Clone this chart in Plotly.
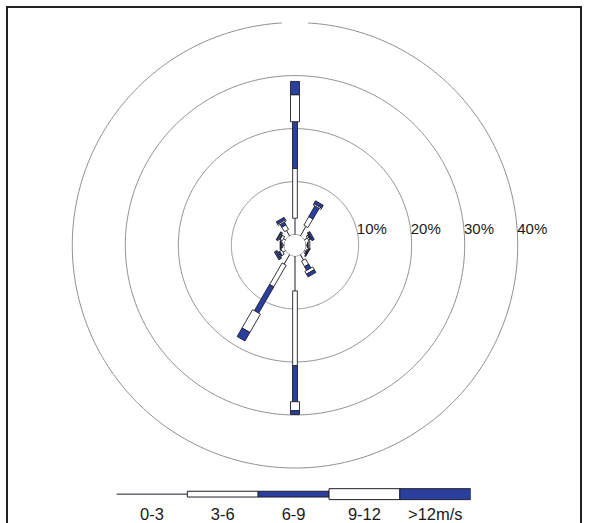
import numpy as np
import plotly.graph_objects as go

# Wind rose: frequency (%) of each speed class per direction (bearing, deg)
directions = [0, 30, 60, 90, 120, 150, 180, 210, 240, 270, 300, 330]
speed_classes = ["0-3", "3-6", "6-9", "9-12", ">12m/s"]
freq_0_3 = [3.1, 2.1, 0.7, 0.3, 0.3, 1.2, 6.6, 2.1, 0.6, 0.3, 0.5, 1.2]
freq_3_6 = [9.4, 1.9, 0.3, 0.1, 0.2, 1.2, 14.1, 4.7, 0.5, 0.2, 0.5, 1.0]
freq_6_9 = [8.8, 2.3, 0.2, 0.1, 0.1, 0.8, 6.8, 5.7, 0.3, 0.1, 0.2, 0.6]
freq_9_12 = [5.1, 0.3, 0.1, 0.3, 0.1, 0.6, 1.7, 4.0, 0.2, 0.1, 0.2, 0.3]
freq_12_plus = [2.5, 0.6, 0.4, 0.0, 0.1, 0.6, 0.7, 1.85, 0.4, 0.1, 0.2, 0.5]
ring_values = [10, 20, 30, 40]
ring_labels = ["10%", "20%", "30%", "40%"]

# ---- styling ----
W, H_PX = 589, 523
BLUE = "#2b3f9f"
EDGE = "#1e1e2a"
GRID = "#8f8f8f"
FONT = "Arial, Liberation Sans, sans-serif"
R_TOP = 40.5                   # a little headroom so the outer ring is not clipped
HOLE = 2.0                     # calm circle, in radial units
PX_PER_UNIT = 224.0 / 42.0
CX, CY = 295.0, 246.7
RAD = PX_PER_UNIT * (R_TOP + HOLE)
# half widths of the bar pieces (radial units); the first class is a plain line
half_w = [None, 0.44, 0.47, 0.85, 0.85]
fills = [None, "white", BLUE, "white", BLUE]

fig = go.Figure()

def bar_piece(theta, r0, r1, hw):
    rs, ts = [], []
    for u, s in [(r0 + HOLE, -1), (r1 + HOLE, -1), (r1 + HOLE, 1), (r0 + HOLE, 1), (r0 + HOLE, -1)]:
        rs.append(float(np.hypot(u, hw) - HOLE))
        ts.append(float(theta + s * np.degrees(np.arctan2(hw, u))))
    return rs, ts

# grid rings (the outermost one is open at the top)
for rv in ring_values:
    if rv == ring_values[-1]:
        th = np.linspace(3.4, 356.6, 400)
    else:
        th = np.linspace(0, 360, 400)
    fig.add_trace(go.Scatterpolar(r=[rv] * len(th), theta=th, mode="lines",
                                  line=dict(color=GRID, width=1), hoverinfo="skip"))

# bars
classes = [freq_0_3, freq_3_6, freq_6_9, freq_9_12, freq_12_plus]
for i, d in enumerate(directions):
    cum = np.cumsum([c[i] for c in classes])
    starts = np.concatenate([[0.0], cum[:-1]])
    # calm-to-3 m/s as a thin line
    fig.add_trace(go.Scatterpolar(r=[0, cum[0]], theta=[d, d], mode="lines",
                                  line=dict(color=EDGE, width=1), hoverinfo="skip"))
    for k in range(1, 5):
        if cum[k] - starts[k] <= 0:
            continue
        rs, ts = bar_piece(d, starts[k], cum[k], half_w[k])
        fig.add_trace(go.Scatterpolar(r=rs, theta=ts, mode="lines", fill="toself",
                                      fillcolor=fills[k],
                                      line=dict(color=EDGE, width=0.9),
                                      hoverinfo="skip"))

# calm circle
th = np.linspace(0, 360, 200)
fig.add_trace(go.Scatterpolar(r=[0] * len(th), theta=th, mode="lines",
                              line=dict(color="#555", width=1), hoverinfo="skip"))

# ring labels, just outside each ring a little above the east line
lab_theta = [90 - np.degrees(np.arcsin(2.8 / (rv + HOLE))) for rv in ring_values]
fig.add_trace(go.Scatterpolar(r=ring_values, theta=lab_theta, mode="text",
                              text=ring_labels, textposition="middle right",
                              textfont=dict(family=FONT, size=15, color="#1a1a1a"),
                              hoverinfo="skip"))

# speed legend strip
leg_hh = [None, 0.29, 0.29, 0.55, 0.55]
fig.add_trace(go.Scatter(x=[0, 1], y=[0, 0], mode="lines", line=dict(color=EDGE, width=1),
                         xaxis="x", yaxis="y", hoverinfo="skip"))
for k in range(1, 5):
    h = leg_hh[k]
    fig.add_trace(go.Scatter(x=[k, k + 1, k + 1, k, k], y=[-h, -h, h, h, -h], mode="lines",
                             fill="toself", fillcolor=fills[k],
                             line=dict(color=EDGE, width=1), xaxis="x", yaxis="y",
                             hoverinfo="skip"))

fig.update_layout(
    width=W, height=H_PX,
    margin=dict(l=0, r=0, t=0, b=0),
    paper_bgcolor="white", plot_bgcolor="white",
    showlegend=False,
    polar=dict(
        domain=dict(x=[(CX - RAD) / W, (CX + RAD) / W],
                    y=[(H_PX - CY - RAD) / H_PX, (H_PX - CY + RAD) / H_PX]),
        hole=HOLE / (R_TOP + HOLE),
        bgcolor="white",
        radialaxis=dict(range=[0, R_TOP], visible=False),
        angularaxis=dict(rotation=90, direction="clockwise", showgrid=False,
                         showline=False, showticklabels=False, ticks=""),
    ),
    xaxis=dict(domain=[116.5 / W, 470.7 / W], range=[0, 5], showgrid=False, zeroline=False,
               showline=False, ticks="", tickvals=[0.5, 1.5, 2.5, 3.5, 4.5],
               ticktext=speed_classes, tickfont=dict(family=FONT, size=16.5, color="#1a1a1a"),
               fixedrange=True),
    yaxis=dict(domain=[(H_PX - 505) / H_PX, (H_PX - 489) / H_PX], range=[-0.8, 0.8],
               visible=False, fixedrange=True),
    shapes=[dict(type="rect", xref="paper", yref="paper",
                 x0=7 / W, x1=581 / W, y0=-0.1, y1=(H_PX - 7) / H_PX,
                 line=dict(color="#222", width=2), fillcolor="rgba(0,0,0,0)")],
)

fig.write_html("out.html")
